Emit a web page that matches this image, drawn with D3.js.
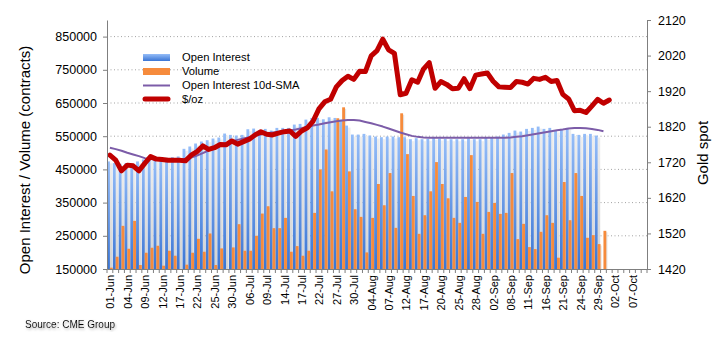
<!DOCTYPE html>
<html>
<head>
<meta charset="utf-8">
<script src="https://cdn.jsdelivr.net/npm/d3@7"></script>
<style>
  body { margin: 0; background: #fff; }
  svg { display: block; font-family: "Liberation Sans", Arial, sans-serif; }
</style>
</head>
<body>
<div id="chart"></div>
<script>
// business days, Jun - Oct
const categories = [
  "01-Jun","02-Jun","03-Jun","04-Jun","05-Jun","08-Jun","09-Jun","10-Jun","11-Jun","12-Jun","15-Jun","16-Jun","17-Jun","18-Jun","19-Jun","22-Jun","23-Jun","24-Jun","25-Jun","26-Jun","29-Jun","30-Jun",
  "01-Jul","02-Jul","06-Jul","07-Jul","08-Jul","09-Jul","10-Jul","13-Jul","14-Jul","15-Jul","16-Jul","17-Jul","20-Jul","21-Jul","22-Jul","23-Jul","24-Jul","27-Jul","28-Jul","29-Jul","30-Jul","31-Jul",
  "03-Aug","04-Aug","05-Aug","06-Aug","07-Aug","10-Aug","11-Aug","12-Aug","13-Aug","14-Aug","17-Aug","18-Aug","19-Aug","20-Aug","21-Aug","24-Aug","25-Aug","26-Aug","27-Aug","28-Aug","31-Aug",
  "01-Sep","02-Sep","03-Sep","04-Sep","08-Sep","09-Sep","10-Sep","11-Sep","14-Sep","15-Sep","16-Sep","17-Sep","18-Sep","21-Sep","22-Sep","23-Sep","24-Sep","25-Sep","28-Sep","29-Sep","30-Sep",
  "01-Oct","02-Oct","05-Oct","06-Oct","07-Oct","08-Oct","09-Oct"
];

const openInterest = [
  474000, 469000, 467000, 469000, 467000, 474000, 480000, 482000, 479000, 481000,
  485000, 487000, 489000, 512000, 519000, 528000, 534000, 538000, 543000, 546000,
  558000, 554000, 552000, 554000, 571000, 573000, 567000, 572000, 567000, 575000,
  575000, 575000, 585000, 587000, 600000, 605000, 605000, 601000, 607000, 605000,
  600000, 582000, 555000, 555000, 557000, 552000, 549000, 547000, 549000, 549000,
  547000, 547000, 541000, 544000, 541000, 542000, 545000, 543000, 542000, 541000,
  541000, 541000, 544000, 541000, 541000, 545000, 547000, 549000, 555000, 560000,
  567000, 564000, 572000, 575000, 579000, 572000, 575000, 567000, 572000, 575000,
  557000, 554000, 557000, 557000, 552000
];

const volume = [
  154000, 187000, 280000, 211000, 295000, 162000, 199000, 214000, 220000, 160000,
  205000, 190000, 148000, 163000, 199000, 241000, 202000, 257000, 162000, 212000,
  146000, 215000, 285000, 205000, 205000, 250000, 317000, 339000, 273000, 273000,
  304000, 202000, 219000, 190000, 205000, 319000, 450000, 510000, 384000, 604000,
  637000, 444000, 330000, 307000, 200000, 304000, 406000, 342000, 439000, 274000,
  619000, 496000, 370000, 256000, 312000, 384000, 472000, 406000, 363000, 304000,
  289000, 367000, 493000, 352000, 256000, 322000, 349000, 316000, 319000, 439000,
  240000, 286000, 216000, 210000, 262000, 312000, 289000, 184000, 412000, 297000,
  439000, 370000, 244000, 252000, 225000, 265000
];

const oiSma = [
  515000, 511000, 506000, 500000, 495000, 490000, 484000, 481000, 479000, 478000,
  478000, 478000, 479000, 481000, 486000, 492000, 499000, 507000, 514000, 521000,
  528000, 535000, 539000, 543000, 547000, 551000, 555000, 558000, 561000, 563000,
  565000, 567000, 570000, 574000, 578000, 582000, 585000, 589000, 592000, 595000,
  597000, 599000, 599000, 597000, 593000, 589000, 584000, 579000, 573000, 567000,
  561000, 556000, 551000, 548000, 546000, 545000, 545000, 545000, 545000, 545000,
  545000, 545000, 545000, 545000, 545000, 545000, 545000, 545000, 545000, 546000,
  548000, 550000, 553000, 556000, 559000, 562000, 565000, 568000, 570000, 573000,
  575000, 575000, 574000, 572000, 569000, 565000
];

const goldSpot = [
  1740, 1726, 1696, 1712, 1710, 1696, 1717, 1736, 1729, 1728,
  1726, 1726, 1726, 1724, 1740, 1750, 1766, 1756, 1761, 1770,
  1769, 1780, 1771, 1778, 1785, 1797, 1806, 1799, 1797, 1802,
  1806, 1808, 1793, 1808, 1817, 1836, 1870, 1890, 1897, 1932,
  1950, 1962, 1953, 1976, 1975, 2019, 2034, 2066, 2036, 2026,
  1910, 1914, 1952, 1945, 1982, 2000, 1928, 1947, 1939, 1927,
  1928, 1955, 1927, 1965, 1968, 1971, 1948, 1932, 1931, 1930,
  1947, 1945, 1940, 1956, 1953, 1959, 1947, 1950, 1911, 1898,
  1865, 1866, 1860, 1878, 1897, 1886, 1895
];

const leftTicks = [150000, 250000, 350000, 450000, 550000, 650000, 750000, 850000];
const rightTicks = [1420, 1520, 1620, 1720, 1820, 1920, 2020, 2120];
const legendNames = ["Open Interest", "Volume", "Open Interest 10d-SMA", "$/oz"];

const width = 726, height = 342;
const plotLeft = 107, plotRight = 647, plotTop = 20, plotBottom = 269;

const svg = d3.select("#chart").append("svg")
  .attr("width", width)
  .attr("height", height);

const defs = svg.append("defs");
const oiGrad = defs.append("linearGradient").attr("id", "oiGrad")
  .attr("x1", 0).attr("y1", 0).attr("x2", 0).attr("y2", 1);
oiGrad.append("stop").attr("offset", "0%").attr("stop-color", "#95bdf8");
oiGrad.append("stop").attr("offset", "100%").attr("stop-color", "#3a75d4");
const shGrad = defs.append("linearGradient").attr("id", "shGrad")
  .attr("x1", 0).attr("y1", 0).attr("x2", 0).attr("y2", 1);
shGrad.append("stop").attr("offset", "0%").attr("stop-color", "#eeeeee");
shGrad.append("stop").attr("offset", "100%").attr("stop-color", "#d2d2d2");
const txtShadow = defs.append("filter").attr("id", "txtShadow");
txtShadow.append("feDropShadow").attr("dx", 1).attr("dy", 1.5)
  .attr("stdDeviation", 1).attr("flood-color", "#8c8c8c").attr("flood-opacity", 0.7);

const x = d3.scaleBand().domain(categories).range([plotLeft, plotRight]).paddingInner(0).paddingOuter(0);
const xSub = d3.scaleBand().domain(["oi", "vol"]).range([0, x.bandwidth()]).paddingOuter(0.02);
const yL = d3.scaleLinear().domain([150000, 900000]).range([plotBottom, plotTop]);
const yR = d3.scaleLinear().domain([1420, 2120]).range([plotBottom, plotTop]);
const cx = i => x(categories[i]) + x.bandwidth() / 2;
const bw = xSub.bandwidth();

// grid
svg.append("g").selectAll("line")
  .data(leftTicks.slice(1))
  .join("line")
  .attr("x1", plotLeft).attr("x2", plotRight)
  .attr("y1", d => yL(d)).attr("y2", d => yL(d))
  .attr("stroke", "#a3a3a3")
  .attr("stroke-width", 1)
  .attr("stroke-dasharray", "1 2.5");

const barH = v => Math.max(0, plotBottom - yL(Math.max(v, 150000)));

// shadows
svg.append("g").selectAll("rect")
  .data(volume)
  .join("rect")
  .attr("x", (d, i) => x(categories[i]) + xSub("vol") + bw * 0.8)
  .attr("y", d => yL(Math.max(d, 150000)) + 1.5)
  .attr("width", bw * 0.6)
  .attr("height", d => Math.max(0, barH(d) - 1.5))
  .attr("fill", "#e4e4e4");
svg.append("g").selectAll("rect")
  .data(openInterest)
  .join("rect")
  .attr("x", (d, i) => x(categories[i]) + xSub("oi") + bw * 0.85)
  .attr("y", d => yL(d) + 2)
  .attr("width", bw * 1.05)
  .attr("height", d => barH(d) - 2)
  .attr("fill", "url(#shGrad)");

// open interest bars
svg.append("g").selectAll("rect")
  .data(openInterest)
  .join("rect")
  .attr("x", (d, i) => x(categories[i]) + xSub("oi"))
  .attr("y", d => yL(d))
  .attr("width", bw)
  .attr("height", d => barH(d))
  .attr("fill", "url(#oiGrad)");

// volume bars
svg.append("g").selectAll("rect")
  .data(volume)
  .join("rect")
  .attr("x", (d, i) => x(categories[i]) + xSub("vol"))
  .attr("y", d => yL(Math.max(d, 150000)))
  .attr("width", bw)
  .attr("height", d => barH(d))
  .attr("fill", "#f68b3c");

// lines
svg.append("path")
  .datum(oiSma)
  .attr("fill", "none")
  .attr("stroke", "#7c5ca8")
  .attr("stroke-width", 2)
  .attr("stroke-linejoin", "round")
  .attr("d", d3.line().x((d, i) => cx(i)).y(d => yL(d)));

svg.append("path")
  .datum(goldSpot)
  .attr("fill", "none")
  .attr("stroke", "#c00000")
  .attr("stroke-width", 5)
  .attr("stroke-linejoin", "round")
  .attr("stroke-linecap", "round")
  .attr("d", d3.line().x((d, i) => cx(i)).y(d => yR(d)));

// axes
const axisColor = "#7f7f7f";
const gL = svg.append("g").attr("transform", `translate(${plotLeft},0)`)
  .call(d3.axisLeft(yL).tickValues(leftTicks).tickSize(4).tickPadding(6).tickSizeOuter(0).tickFormat(d3.format("d")));
const gR = svg.append("g").attr("transform", `translate(${plotRight},0)`)
  .call(d3.axisRight(yR).tickValues(rightTicks).tickSize(4).tickPadding(7).tickSizeOuter(0).tickFormat(d3.format("d")));
[gL, gR].forEach(g => {
  g.select(".domain").attr("stroke", axisColor);
  g.selectAll(".tick line").attr("stroke", axisColor);
  g.selectAll(".tick text").attr("fill", "#000").style("font-size", "12.5px")
    .style("font-family", '"Liberation Sans", Arial, sans-serif');
});

const gB = svg.append("g").attr("transform", `translate(0,${plotBottom})`)
  .call(d3.axisBottom(x).tickValues(categories.filter((d, i) => i % 3 === 0)).tickSize(0).tickSizeOuter(0));
gB.select(".domain").attr("stroke", axisColor);
gB.selectAll(".tick text")
  .attr("transform", "rotate(-90)")
  .attr("text-anchor", "end")
  .attr("x", -6)
  .attr("y", 0)
  .attr("dy", "0.4em")
  .attr("fill", "#000")
  .style("font-size", "11px")
  .style("font-family", '"Liberation Sans", Arial, sans-serif');

// category boundary ticks
svg.append("g").selectAll("line")
  .data(categories.concat([null]))
  .join("line")
  .attr("x1", d => d ? x(d) : plotRight)
  .attr("x2", d => d ? x(d) : plotRight)
  .attr("y1", plotBottom).attr("y2", plotBottom + 4)
  .attr("stroke", axisColor);

// axis titles
svg.append("text")
  .attr("transform", "translate(25,160) rotate(-90)")
  .attr("text-anchor", "middle")
  .attr("dy", "0.35em")
  .style("font-size", "15px")
  .text("Open Interest / Volume (contracts)");

svg.append("text")
  .attr("transform", "translate(703,153) rotate(-90)")
  .attr("text-anchor", "middle")
  .attr("dy", "0.35em")
  .style("font-size", "15px")
  .text("Gold spot");

// legend
const lg = svg.append("g");
const rows = [57.5, 71.5, 85.5, 99];
lg.append("rect").attr("x", 143).attr("y", rows[0] - 3.5).attr("width", 27).attr("height", 7).attr("fill", "url(#oiGrad)");
lg.append("rect").attr("x", 143).attr("y", rows[1] - 3.5).attr("width", 27).attr("height", 7).attr("fill", "#f68b3c");
lg.append("line").attr("x1", 143).attr("x2", 170).attr("y1", rows[2]).attr("y2", rows[2])
  .attr("stroke", "#7c5ca8").attr("stroke-width", 2);
lg.append("line").attr("x1", 145).attr("x2", 168).attr("y1", rows[3]).attr("y2", rows[3])
  .attr("stroke", "#c00000").attr("stroke-width", 5).attr("stroke-linecap", "round");
lg.selectAll("text")
  .data(legendNames)
  .join("text")
  .attr("x", 182)
  .attr("y", (d, i) => rows[i])
  .attr("dy", "0.35em")
  .style("font-size", "11.2px")
  .text(d => d);

svg.append("text")
  .attr("x", 25)
  .attr("y", 328)
  .attr("filter", "url(#txtShadow)")
  .style("font-size", "10px")
  .text("Source: CME Group");
</script>
</body>
</html>
